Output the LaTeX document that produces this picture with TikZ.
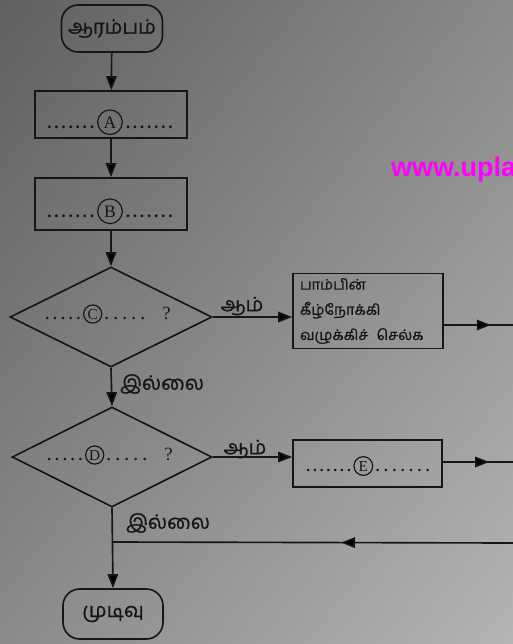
\documentclass[tikz,border=0pt]{standalone}
\usepackage{fontspec}
\setmainfont{Liberation Serif}
\newfontfamily\tam[Script=Tamil,FakeBold=0.8]{Hind Madurai}
\newfontfamily\wmfont{Liberation Sans}
\usetikzlibrary{shapes.geometric,arrows.meta,decorations.markings,shadings}

\definecolor{ink}{RGB}{22,22,22}
\definecolor{bgUL}{RGB}{96,96,94}
\definecolor{bgUR}{RGB}{138,138,136}
\definecolor{bgLL}{RGB}{138,138,136}
\definecolor{bgLR}{RGB}{180,180,178}
\definecolor{wmcol}{RGB}{255,0,255}

\newcommand{\cletter}[3]{\tikz[baseline=(cc.base)]\node[circle,draw=ink,line width=1pt,inner sep=0pt,minimum size=#2,font=#3](cc){#1};}
\newcommand{\bd}{\textbf{.}}
\newcommand{\sevendots}[1]{\makebox[#1][s]{\bd\hfill\bd\hfill\bd\hfill\bd\hfill\bd\hfill\bd\hfill\bd}}
\newcommand{\fivedots}[1]{\makebox[#1][s]{\bd\hfill\bd\hfill\bd\hfill\bd\hfill\bd}}

\tikzset{
  flow/.style={draw=ink,line width=1.4pt},
  arr/.style={flow,-{Triangle[length=12pt,width=9pt]}},
  midarr/.style={flow,postaction={decorate},decoration={markings,
     mark=at position #1 with {\arrow{Triangle[length=12pt,width=9pt]}}}},
  term/.style={draw=ink,line width=1.4pt,rounded corners=0.5cm,font=\tam\fontsize{17}{19}\selectfont,text=ink},
  proc/.style={draw=ink,line width=1.4pt,text=ink},
  dec/.style={diamond,draw=ink,line width=1.4pt,inner sep=0pt,text=ink},
  lbl/.style={font=\tam\fontsize{17}{19}\selectfont,text=ink,inner sep=0pt},
  dottxt/.style={text=ink,inner sep=0pt}
}

\begin{document}
\begin{tikzpicture}[x=0.03cm,y=-0.03cm]
\useasboundingbox (0,0) rectangle (513,644);
\clip (0,0) rectangle (513,644);
\shade[upper left=bgUL,upper right=bgUR,lower left=bgLL,lower right=bgLR] (0,0) rectangle (513,644);

% watermark (cut off at the edge, as in the reference)
\node[font=\wmfont\bfseries\fontsize{23}{26}\selectfont,text=wmcol,anchor=base west,inner sep=0pt] (wm) at (391,176) {www.upla};

% nodes
\node[term,minimum width=3.03cm,minimum height=1.41cm] (start) at (112,28.5) {ஆரம்பம்};
\node[proc,minimum width=4.56cm,minimum height=1.41cm] (A) at (111,114.5) {};
\node[dottxt,anchor=base] (At) at (110,128) {\fontsize{15}{17}\selectfont\sevendots{40pt}\,\cletter{A}{21pt}{\fontsize{15}{17}\selectfont}\,\sevendots{40pt}};
\node[proc,minimum width=4.56cm,minimum height=1.56cm] (B) at (111,204) {};
\node[dottxt,anchor=base] (Bt) at (110,217) {\fontsize{15}{17}\selectfont\sevendots{40pt}\,\cletter{B}{21pt}{\fontsize{15}{17}\selectfont}\,\sevendots{40pt}};

\node[dec,minimum width=6.06cm,minimum height=3.0cm] (C) at (111,317) {};
\node[dottxt,anchor=base] (Ct) at (108,319) {\fontsize{13}{15}\selectfont\fivedots{30pt}\,\cletter{C}{15.5pt}{\fontsize{13}{15}\selectfont}\,\fivedots{34pt}\hspace{15pt}{\fontsize{16}{18}\selectfont ?}};

\node[proc,minimum width=4.5cm,minimum height=2.25cm,text width=4.08cm,inner xsep=6pt,align=left,
      font=\tam\fontsize{12.5}{21.5}\selectfont] (Cy) at (368,311) {பாம்பின்\\கீழ்நோக்கி\\வழுக்கிச்\hspace{7pt}செல்க};

\node[dec,minimum width=6.0cm,minimum height=3.0cm] (D) at (112,457) {};
\node[dottxt,anchor=base] (Dt) at (110,460) {\fontsize{13}{15}\selectfont\fivedots{30pt}\,\cletter{D}{15.5pt}{\fontsize{13}{15}\selectfont}\,\fivedots{34pt}\hspace{15pt}{\fontsize{16}{18}\selectfont ?}};

\node[proc,minimum width=4.47cm,minimum height=1.41cm] (E) at (367.5,463.5) {};
\node[dottxt,anchor=base] (Et) at (368,471) {\fontsize{13}{15}\selectfont\sevendots{38pt}\,\cletter{E}{16pt}{\fontsize{13}{15}\selectfont}\,\sevendots{46pt}};

\node[term,minimum width=3.0cm,minimum height=1.5cm] (end) at (113,614) {முடிவு};

% labels
\node[lbl] (yes1) at (242,306) {ஆம்};
\node[lbl] (no1) at (162,384) {இல்லை};
\node[lbl] (yes2) at (245,449) {ஆம்};
\node[lbl] (no2) at (168,523) {இல்லை};

% coordinates at the right edge
\coordinate (r1) at (513,325);
\coordinate (r2) at (513,462);
\coordinate (r3) at (513,543);
\coordinate (j) at (113,542);

% connectors
\draw[arr] (start) -- (A);
\draw[arr] (A) -- (B);
\draw[arr] (B) -- (C.north);
\draw[arr] (C.east) -- (C.east -| Cy.west);
\draw[midarr=0.68] (Cy.east |- r1) -- (r1);
\draw[arr] (C.south) -- (D.north);
\draw[arr] (D.east) -- (D.east -| E.west);
\draw[midarr=0.66] (E.east |- r2) -- (r2);
\draw[midarr=0.43] (r3) -- (j);
\draw[arr] (D.south) -- (end.north);
\end{tikzpicture}
\end{document}
